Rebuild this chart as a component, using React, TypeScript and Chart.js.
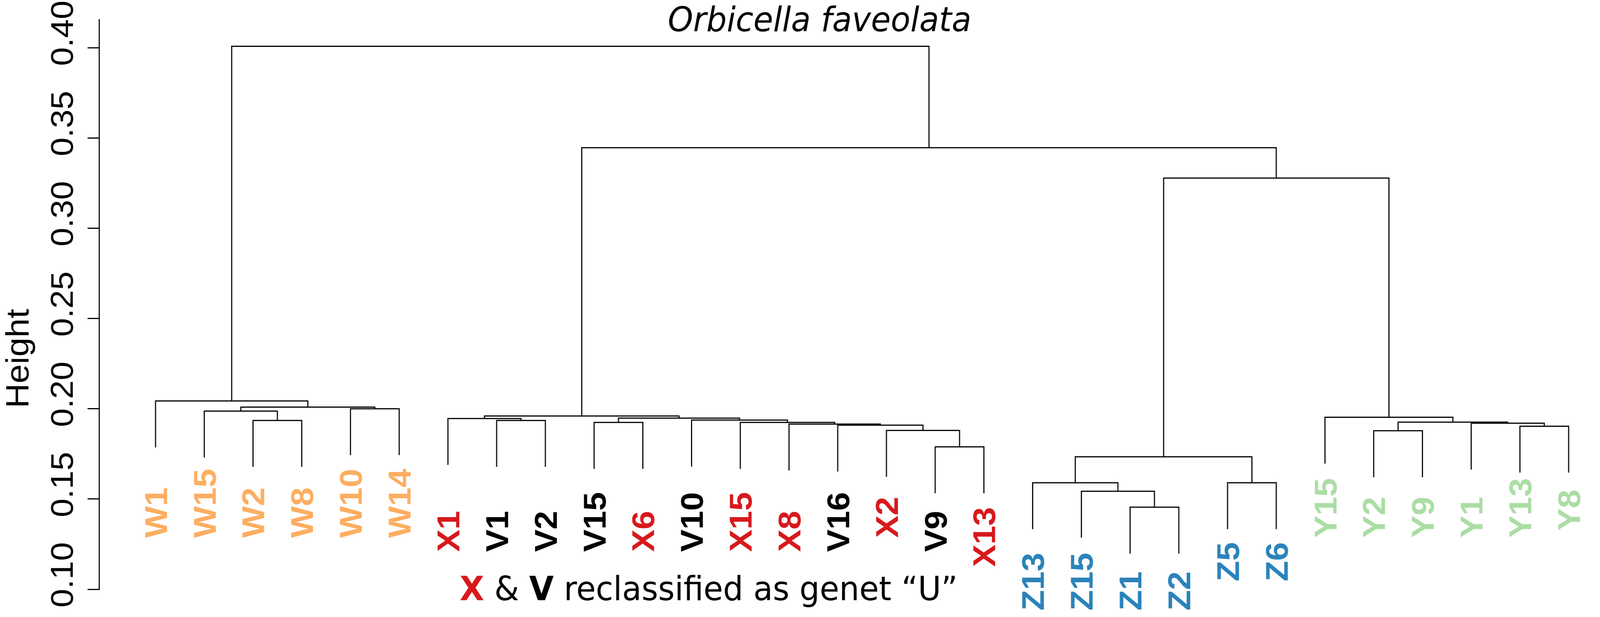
import React, { useEffect, useRef, useState } from 'react';
import { Chart, registerables } from 'chart.js';

Chart.register(...registerables);

// Leaf order (left to right) of the dendrogram
const leafLabels = ['W1', 'W15', 'W2', 'W8', 'W10', 'W14',
  'X1', 'V1', 'V2', 'V15', 'X6', 'V10', 'X15', 'X8', 'V16', 'X2', 'V9', 'X13',
  'Z13', 'Z15', 'Z1', 'Z2', 'Z5', 'Z6',
  'Y15', 'Y2', 'Y9', 'Y1', 'Y13', 'Y8'];

// Height at which each leaf label starts (text reads upward from here)
const labelBase = [0.1285, 0.1285, 0.1285, 0.1285, 0.1285, 0.1285,
  0.1207, 0.1207, 0.1207, 0.1207, 0.1207, 0.1207, 0.1207, 0.1207, 0.1207, 0.1285, 0.1207, 0.1124,
  0.0882, 0.0882, 0.0882, 0.0882, 0.1044, 0.1044,
  0.1285, 0.1285, 0.1285, 0.1285, 0.1285, 0.1325];

// Merge table (R hclust style): negative = leaf index (1-based), positive = earlier merge (1-based)
const mergeLeft = [-3, -2, -5, 2, -1, -8, -7, -10, -17, -16, -15, -14, -13, -12, 8, 7,
  -21, -20, -19, -23, 19, -26, -29, -28, 22, -25, 21, 16, 5];
const mergeRight = [-4, 1, -6, 3, 4, -9, 6, -11, -18, 9, 10, 11, 12, 13, 14, 15,
  -22, 17, 18, -24, 20, -27, -30, 23, 24, 25, 26, 27, 28];
const mergeHeight = [0.1935, 0.1987, 0.2000, 0.2009, 0.2043, 0.1935, 0.1946, 0.1924, 0.1789, 0.1880,
  0.1909, 0.1915, 0.1924, 0.1937, 0.1948, 0.1960, 0.1455, 0.1543, 0.1590, 0.1590, 0.1734,
  0.1878, 0.1903, 0.1920, 0.1926, 0.1953, 0.3278, 0.3446, 0.4008];

const HANG = 0.0257;
const yTicks = [0.10, 0.15, 0.20, 0.25, 0.30, 0.35, 0.40];

const groupColors: Record<string, string> = {
  W: '#FDAE61', X: '#D7191C', V: '#000000', Z: '#2B83BA', Y: '#ABDDA4',
};

const W = 4330;
const H = 1580;

function buildSegments() {
  const nodeX: number[] = [];
  const nodeH: number[] = [];
  const childX = (c: number) => (c < 0 ? -c : nodeX[c - 1]);
  const childBottom = (c: number, h: number) => (c < 0 ? h - HANG : nodeH[c - 1]);
  const sets: { x: number; y: number }[][] = [];
  for (let i = 0; i < mergeHeight.length; i++) {
    const l = mergeLeft[i];
    const r = mergeRight[i];
    const h = mergeHeight[i];
    const xl = childX(l);
    const xr = childX(r);
    sets.push([
      { x: xl, y: childBottom(l, h) },
      { x: xl, y: h },
      { x: xr, y: h },
      { x: xr, y: childBottom(r, h) },
    ]);
    nodeX.push((xl + xr) / 2);
    nodeH.push(h);
  }
  return sets;
}

const labelPlugin = {
  id: 'dendroText',
  afterDraw(chart: any) {
    const ctx = chart.ctx as CanvasRenderingContext2D;
    const xs = chart.scales.x;
    const ys = chart.scales.y;
    const area = chart.chartArea;
    ctx.save();
    ctx.fillStyle = '#000';
    // y tick labels (rotated)
    ctx.font = '86px "Liberation Sans", Arial, sans-serif';
    ctx.textAlign = 'center';
    ctx.textBaseline = 'alphabetic';
    for (const v of yTicks) {
      const py = ys.getPixelForValue(v) - 37;
      ctx.save();
      ctx.translate(area.left - 71, py);
      ctx.rotate(-Math.PI / 2);
      ctx.fillText(v.toFixed(2), 0, 0);
      ctx.restore();
    }
    // axis title
    ctx.save();
    ctx.font = '88px "Liberation Sans", Arial, sans-serif';
    ctx.translate(77, 918);
    ctx.rotate(-Math.PI / 2);
    ctx.fillText('Height', 0, 0);
    ctx.restore();
    // main title
    ctx.font = 'italic 87px "DejaVu Sans", sans-serif';
    ctx.textAlign = 'center';
    ctx.fillText('Orbicella faveolata', 2218, 80);
    // leaf labels
    ctx.font = 'bold 86px "Liberation Sans", Arial, sans-serif';
    ctx.textAlign = 'left';
    const capHalf = 0.716 * 86 / 2;
    leafLabels.forEach((lab, i) => {
      const px = xs.getPixelForValue(i + 1);
      const py = ys.getPixelForValue(labelBase[i]);
      ctx.save();
      ctx.fillStyle = groupColors[lab[0]] || '#000';
      ctx.translate(px + capHalf, py);
      ctx.rotate(-Math.PI / 2);
      ctx.fillText(lab, 0, 0);
      ctx.restore();
    });
    // annotation
    const runs: { t: string; bold: boolean; color: string }[] = [
      { t: 'X', bold: true, color: '#D7191C' },
      { t: ' & ', bold: false, color: '#000' },
      { t: 'V', bold: true, color: '#000' },
      { t: ' reclassified as genet \u201CU\u201D', bold: false, color: '#000' },
    ];
    let ax = 1244;
    const ay = 1537;
    ctx.textAlign = 'left';
    for (const r of runs) {
      ctx.font = (r.bold ? 'bold ' : '') + '86px "DejaVu Sans", sans-serif';
      ctx.fillStyle = r.color;
      ctx.fillText(r.t, ax, ay);
      ax += ctx.measureText(r.t).width;
    }
    ctx.restore();
  },
};

function getScale(): [number, number] {
  if (typeof window === 'undefined') return [1, 1];
  const sw = window.innerWidth / W;
  const sh = window.innerHeight / H;
  return [sw > 0 ? sw : 1, sh > 0 ? sh : 1];
}

export default function App() {
  const ref = useRef<HTMLCanvasElement | null>(null);
  const [scale, setScale] = useState<[number, number]>(() => {
    document.body.style.margin = '0';
    document.body.style.overflow = 'hidden';
    document.documentElement.style.overflow = 'hidden';
    return getScale();
  });

  useEffect(() => {
    const onResize = () => setScale(getScale());
    window.addEventListener('resize', onResize);
    return () => window.removeEventListener('resize', onResize);
  }, []);

  useEffect(() => {
    const canvas = ref.current;
    if (!canvas) return;
    const segs = buildSegments();
    const datasets = segs.map((pts) => ({
      data: pts,
      showLine: true,
      borderColor: '#000',
      backgroundColor: '#000',
      borderWidth: 3,
      pointRadius: 0,
      pointHoverRadius: 0,
      tension: 0,
      fill: false,
      borderJoinStyle: 'miter' as const,
      borderCapStyle: 'butt' as const,
    }));
    const chart = new Chart(canvas, {
      type: 'scatter',
      data: { datasets },
      options: {
        animation: false,
        responsive: false,
        maintainAspectRatio: false,
        devicePixelRatio: Math.max(1, (window.devicePixelRatio || 1)),
        events: [],
        layout: { padding: { top: 50, bottom: 71, left: 0, right: 0 } },
        plugins: {
          legend: { display: false },
          tooltip: { enabled: false },
          title: { display: false },
        },
        scales: {
          x: { type: 'linear', display: false, min: -0.16, max: 30.644 },
          y: {
            type: 'linear',
            position: 'left',
            min: 0.10,
            max: 0.4156,
            afterBuildTicks: (s: any) => { s.ticks = yTicks.map((v) => ({ value: v })); },
            afterFit: (s: any) => { s.width = 268; },
            ticks: { display: false },
            grid: { display: true, drawOnChartArea: false, drawTicks: true, tickLength: 31, lineWidth: 3, color: '#000' },
            border: { display: true, color: '#000', width: 3 },
          },
        },
      },
      plugins: [labelPlugin],
    } as any);
    return () => chart.destroy();
  }, []);

  const [sx, sy] = scale;
  return (
    <div style={{ width: W * sx, height: H * sy, overflow: 'hidden', background: '#fff' }}>
      <div style={{ width: W, height: H, transform: `scale(${sx}, ${sy})`, transformOrigin: '0 0' }}>
        <canvas ref={ref} width={W} height={H} style={{ display: 'block', width: W, height: H }} />
      </div>
    </div>
  );
}
